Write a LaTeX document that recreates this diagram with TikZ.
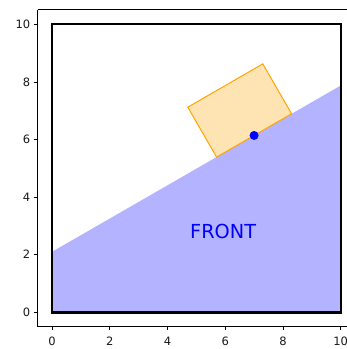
\documentclass[tikz,border=0pt]{standalone}
\usepackage{fontspec}
\setmainfont{DejaVu Sans}
\definecolor{frontblue}{RGB}{179,179,255}
\definecolor{boxfill}{RGB}{255,228,179}
\definecolor{boxedge}{RGB}{255,165,0}
\begin{document}
\begin{tikzpicture}[x=28.87pt,y=28.8pt,
  spine/.style={line width=0.8pt,black},
  tickmark/.style={line width=0.8pt,black},
  ticklabel/.style={inner sep=0pt,font=\fontsize{11.5}{13}\selectfont,text=black!90},
  wall/.style={line width=2.4pt,black},
  frontzone/.style={fill=frontblue},
  objbox/.style={fill=boxfill,draw=boxedge,line width=1pt},
  dotmark/.style={fill=blue}]
\useasboundingbox (-1.801,-1.274) rectangle (10.218,10.844);
\clip (-1.801,-1.274) rectangle (10.218,10.844);
% front zone
\fill[frontzone] (0,0) -- (10,0) -- (10,7.8735) -- (0,2.1) -- cycle;
\node[font=\fontsize{19.3}{22}\selectfont,text=blue,inner sep=0pt] (front) at (5.93,2.82) {FRONT};
% walls
\draw[wall] (0,0) rectangle (10,10);
% rotated box
\draw[objbox,shift={(7,6.1415)},rotate=30] (-1.5,0) rectangle (1.5,2);
\fill[dotmark] (7,6.1415) circle (4.5pt);
\coordinate (pt) at (7,6.1415);
% axes
\draw[spine] (-0.5,10.5) -- (-0.5,-0.5) -- (10.5,-0.5);
\draw[spine] (-0.5,10.5) -- (10.5,10.5);
\foreach \v in {0,2,4,6,8,10}{
  \draw[tickmark] (-0.5,\v) -- ++(-3.5pt,0) node[ticklabel,anchor=east,xshift=-3.5pt] (yl\v) {\v};
  \draw[tickmark] (\v,-0.5) -- ++(0,-3.5pt) node[ticklabel,anchor=north,yshift=-6.5pt] (xl\v) {\v};
}
\end{tikzpicture}
\end{document}
